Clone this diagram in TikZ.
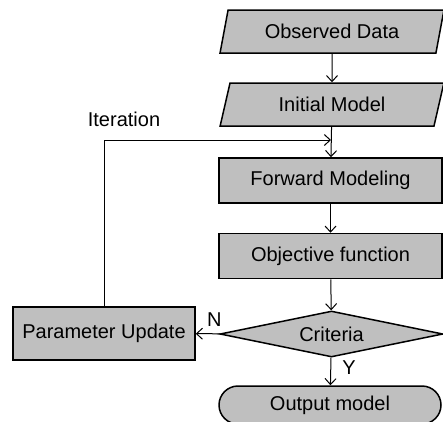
\documentclass[tikz,border=0pt]{standalone}
\usepackage{fontspec}
\setmainfont{Liberation Sans}
\usetikzlibrary{shapes.geometric,shapes.misc,arrows.meta}

\tikzset{
  base/.style={draw, line width=1.5pt, fill=black!25, inner sep=2pt, font=\fontsize{20}{24}\selectfont},
  procbox/.style={base, rectangle, minimum width=223, minimum height=45},
  iobox/.style={base, trapezium, trapezium left angle=74, trapezium right angle=106, trapezium stretches=true, minimum width=224, minimum height=43},
  decision/.style={base, diamond, shape aspect=4.8, inner sep=0pt, minimum width=223, minimum height=46},
  endbox/.style={base, rounded rectangle, minimum width=226, minimum height=38},
  arrow/.style={-{Straight Barb[length=6pt, width=11pt]}, line width=1pt},
  lbl/.style={font=\fontsize{20}{24}\selectfont, inner sep=0pt}
}

\begin{document}
\begin{tikzpicture}[x=1pt, y=-1pt]
  \useasboundingbox (0,0) rectangle (443,421);

  \node[iobox] (obs) at (332,31.5) {Observed Data};
  \node[iobox] (init) at (332,104.5) {Initial Model};
  \node[procbox] (fwd) at (330.5,180.5) {Forward Modeling};
  \node[procbox] (obj) at (330.5,256) {Objective function};
  \node[decision] (crit) at (331.5,334) {Criteria};
  \node[endbox] (out) at (330,405) {Output model};
  \node[procbox, minimum width=182, minimum height=53] (upd) at (104,333.5) {Parameter Update};

  \node[lbl] (iter) at (124,119) {Iteration};
  \coordinate (join) at (331,140);

  \draw[arrow] (obs) -- (init);
  \draw[arrow] (init) -- (fwd);
  \draw[arrow] (fwd) -- (obj);
  \draw[arrow] (obj) -- (crit);
  \draw[arrow] (crit) -- node[lbl, pos=0.35, right=11pt] {Y} (out);
  \draw[arrow] (crit) -- node[lbl, pos=0.25, above=7pt] {N} (upd);
  \draw[arrow] (upd.north) |- (join);
\end{tikzpicture}
\end{document}
